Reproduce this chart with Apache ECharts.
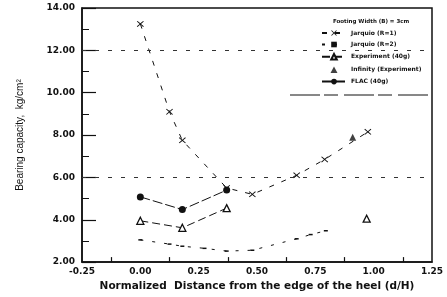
<!DOCTYPE html>
<html>
<head>
<meta charset="utf-8">
<script src="https://cdn.jsdelivr.net/npm/echarts@6/dist/echarts.min.js"></script>
<style>html,body{margin:0;padding:0;background:#fff;}#c{width:447px;height:297px;}</style>
</head>
<body>
<div id="c"></div>
<script>
// Data
var jarquio1X = [0.0, 0.125, 0.18, 0.37, 0.48, 0.67, 0.79, 0.975];
var jarquio1Y = [13.25, 9.1, 7.75, 5.5, 5.2, 6.1, 6.85, 8.15];
var jarquio2X = [0.0, 0.125, 0.18, 0.275, 0.37, 0.48, 0.67, 0.73, 0.795];
var jarquio2Y = [3.05, 2.85, 2.75, 2.65, 2.52, 2.56, 3.1, 3.3, 3.48];
var exp40X = [0.0, 0.18, 0.37, 0.97];
var exp40Y = [3.95, 3.62, 4.55, 4.05];
var infX = [0.91];
var infY = [7.9];
var flacX = [0.0, 0.18, 0.37];
var flacY = [5.08, 4.48, 5.4];
var refLines = [12, 6];
var xTickMarks = [-0.125, 0.125, 0.375, 0.625, 0.875, 1.125];
var seriesNames = ['Jarquio (R=1)', 'Jarquio (R=2)', 'Experiment (40g)', 'Infinity (Experiment)', 'FLAC (40g)'];
var legendTitle = 'Footing Width (B) = 3cm';
var xName = 'Normalized  Distance from the edge of the heel (d/H)';
var yName = 'Bearing capacity,  kg/cm\u00b2';

function pairs(xs, ys) { return xs.map(function (x, i) { return [x, ys[i]]; }); }
// break the experiment line before the last (isolated) point
var expData = pairs(exp40X.slice(0, 3), exp40Y.slice(0, 3));
expData.push([0.6, '-']);
expData.push([exp40X[3], exp40Y[3]]);

var ink = '#111';
var crossPath = 'path://M0,1L1,0L5,4L9,0L10,1L6,5L10,9L9,10L5,6L1,10L0,9L4,5Z';
// small centred triangle inside a 24x7 legend box
var legendTri = 'path://M0,0L0.01,0L0,0.01ZM8.5,7L12,0.5L15.5,7ZM24,7L23.99,7L24,6.99Z';
var chart = echarts.init(document.getElementById('c'), null, {renderer: 'canvas'});
chart.setOption({
  animation: false,
  backgroundColor: '#fff',
  title: {
    text: legendTitle, left: 333, top: 19, padding: 0,
    textStyle: {fontSize: 5.5, fontWeight: 'bold', color: ink, fontFamily: 'DejaVu Sans'}
  },
  legend: {
    orient: 'vertical', left: 321, top: 30, padding: 0,
    itemWidth: 24, itemHeight: 7, itemGap: 5.5,
    data: [
      {name: seriesNames[0]},
      {name: seriesNames[1]},
      {name: seriesNames[2]},
      {name: seriesNames[3], icon: legendTri},
      {name: seriesNames[4]}
    ],
    textStyle: {fontSize: 6, fontWeight: 'bold', color: ink, fontFamily: 'DejaVu Sans'}
  },
  graphic: [{
    type: 'line', shape: {x1: 290, y1: 95, x2: 432, y2: 95},
    style: {stroke: ink, lineWidth: 1, lineDash: [30, 4, 14, 6]}
  }],
  grid: {left: 82, right: 15, top: 8, bottom: 30, show: true, borderColor: ink, borderWidth: 1.5},
  xAxis: {
    type: 'value', min: -0.25, max: 1.25, interval: 0.25,
    name: xName, nameLocation: 'middle', nameGap: 17,
    nameTextStyle: {fontSize: 10.5, fontWeight: 'bold', color: ink, fontFamily: 'DejaVu Sans'},
    axisLine: {onZero: false, lineStyle: {color: ink, width: 1.5}},
    axisTick: {show: true, inside: true, length: 5, customValues: xTickMarks, lineStyle: {color: ink, width: 1.2}},
    splitLine: {show: false},
    axisLabel: {margin: 5, fontSize: 9, fontWeight: 'bold', color: ink, fontFamily: 'DejaVu Sans',
      formatter: function (v) { return v.toFixed(2); }}
  },
  yAxis: {
    type: 'value', min: 2, max: 14, interval: 2,
    name: yName, nameLocation: 'middle', nameGap: 57,
    nameTextStyle: {fontSize: 10, color: ink, fontFamily: 'Liberation Sans'},
    axisLine: {onZero: false, lineStyle: {color: ink, width: 1.5}},
    axisTick: {show: true, inside: true, length: 14, lineStyle: {color: ink, width: 1.2}},
    minorTick: {show: true, splitNumber: 2, length: 7, lineStyle: {color: ink, width: 1}},
    splitLine: {show: false},
    axisLabel: {margin: 7, fontSize: 9, fontWeight: 'bold', color: ink, fontFamily: 'DejaVu Sans',
      formatter: function (v) { return v.toFixed(2); }}
  },
  series: [
    {
      name: seriesNames[0], type: 'line', data: pairs(jarquio1X, jarquio1Y),
      symbol: crossPath, symbolSize: [7, 6],
      itemStyle: {color: ink},
      lineStyle: {color: ink, width: 1, type: [5, 8]}
    },
    {
      name: seriesNames[1], type: 'line', data: pairs(jarquio2X, jarquio2Y),
      symbol: 'rect', symbolSize: [4, 1.5],
      itemStyle: {color: ink},
      lineStyle: {color: ink, width: 1, type: [3, 9]}
    },
    {
      name: seriesNames[2], type: 'line', data: expData, connectNulls: false,
      symbol: 'triangle', symbolSize: 7,
      itemStyle: {color: '#fff', borderColor: ink, borderWidth: 1.3},
      lineStyle: {color: ink, width: 1, type: [8, 4]}
    },
    {
      name: seriesNames[3], type: 'scatter', data: pairs(infX, infY),
      symbol: 'triangle', symbolSize: 7,
      itemStyle: {color: ink},
      markLine: {
        silent: true, symbol: 'none', label: {show: false},
        lineStyle: {color: '#333', width: 1, type: [4, 9]},
        data: refLines.map(function (v) { return {yAxis: v}; })
      }
    },
    {
      name: seriesNames[4], type: 'line', data: pairs(flacX, flacY),
      symbol: 'circle', symbolSize: 7,
      itemStyle: {color: ink},
      lineStyle: {color: ink, width: 1, type: [10, 3]}
    }
  ]
});
</script>
</body>
</html>
